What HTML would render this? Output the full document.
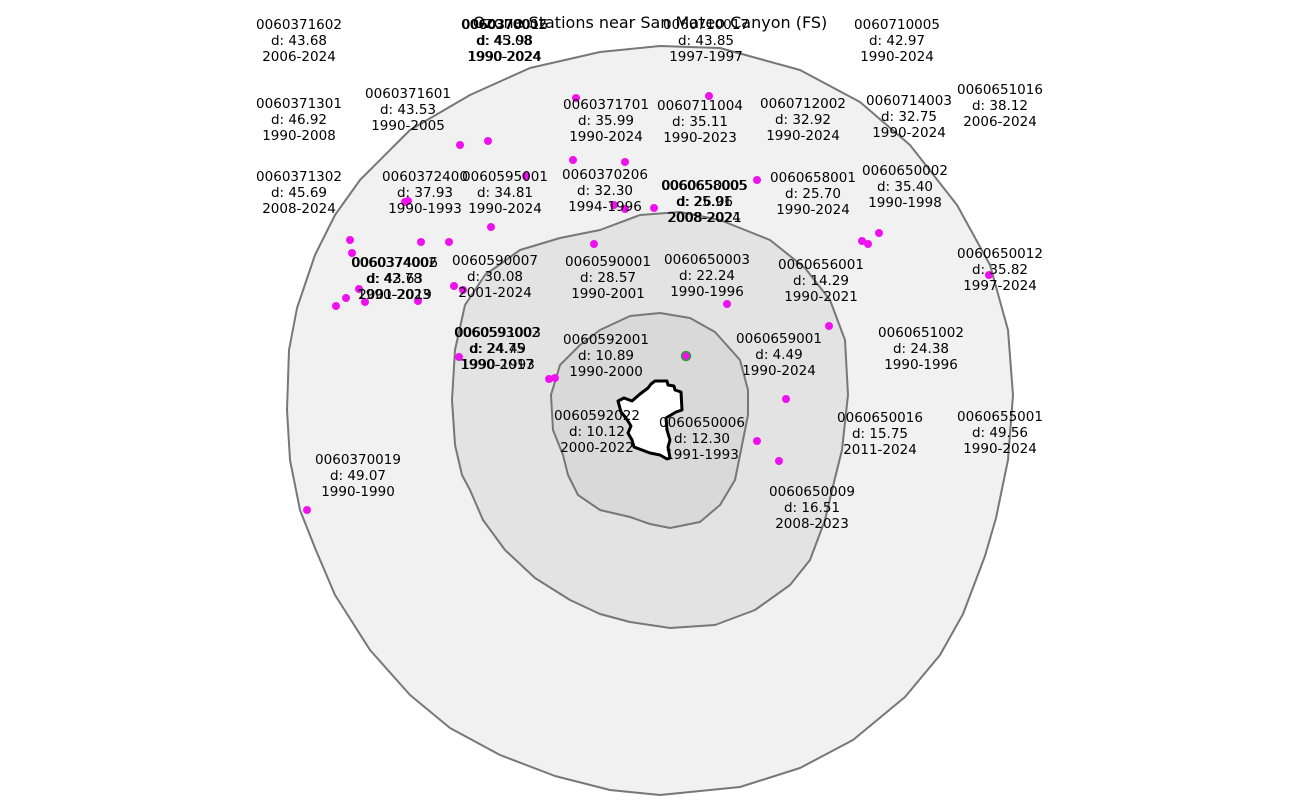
<!DOCTYPE html>
<html><head><meta charset="utf-8"><style>
html,body{margin:0;padding:0;background:#fff}
svg{display:block}
text{font-family:"DejaVu Sans","Liberation Sans",sans-serif;font-size:13.5px;fill:#000}
</style></head><body>
<svg width="1300" height="802" viewBox="0 0 1300 802" xmlns="http://www.w3.org/2000/svg">
<path d="M660,46 L720,48 L800,70 L860,102 L910,145 L957,205 L990,265 L1008,330 L1013,395 L1008,460 L996,518 L985,556 L963,614 L940,655 L905,697 L853,740 L800,768 L740,787 L660,795 L610,790 L555,776 L500,755 L450,728 L410,695 L370,650 L335,595 L315,548 L300,510 L290,460 L287,410 L289,350 L297,308 L315,255 L335,215 L360,180 L410,130 L470,95 L530,68 L600,52 Z" fill="#f1f1f1" stroke="#777" stroke-width="2" stroke-linejoin="round"/>
<path d="M600,230 L640,215 L680,212 L720,220 L770,240 L805,268 L830,300 L845,340 L848,395 L842,450 L835,478 L825,520 L810,560 L790,585 L755,610 L715,625 L670,628 L630,622 L600,614 L570,600 L535,578 L505,550 L483,520 L470,490 L462,475 L455,445 L452,400 L455,350 L465,305 L485,275 L520,250 L560,238 Z" fill="#e3e3e3" stroke="#777" stroke-width="2" stroke-linejoin="round"/>
<path d="M660,313 L690,318 L715,332 L740,360 L748,390 L748,415 L742,445 L735,480 L720,505 L700,522 L670,528 L650,524 L630,517 L600,510 L578,495 L568,475 L563,455 L553,430 L551,395 L560,365 L580,345 L600,330 L630,316 Z" fill="#d9d9d9" stroke="#777" stroke-width="2" stroke-linejoin="round"/>
<path d="M655,381 L667,381 L668,385 L674,386 L675,390 L681,392 L682,410 L676,412 L666,418 L667,430 L670,440 L668,447 L670,458 L667,459 L660,455 L650,453 L634,447 L632,440 L628,433 L631,426 L626,418 L621,412 L618,401 L624,398 L632,401 L640,394 L648,388 L651,384 Z" fill="#fff" stroke="#000" stroke-width="3" stroke-linejoin="round"/>
<g fill="#ee11ee">
<circle cx="576" cy="98" r="4"/><circle cx="709" cy="96" r="4"/><circle cx="460" cy="145" r="4"/><circle cx="488" cy="141" r="4"/><circle cx="573" cy="160" r="4"/><circle cx="625" cy="162" r="4"/><circle cx="526" cy="176" r="4"/><circle cx="757" cy="180" r="4"/><circle cx="405" cy="202" r="4"/><circle cx="408" cy="201" r="4"/><circle cx="614" cy="205" r="4"/><circle cx="625" cy="209" r="4"/><circle cx="654" cy="208" r="4"/><circle cx="491" cy="227" r="4"/><circle cx="350" cy="240" r="4"/><circle cx="421" cy="242" r="4"/><circle cx="449" cy="242" r="4"/><circle cx="594" cy="244" r="4"/><circle cx="862" cy="241" r="4"/><circle cx="868" cy="244" r="4"/><circle cx="879" cy="233" r="4"/><circle cx="352" cy="253" r="4"/><circle cx="359" cy="289" r="4"/><circle cx="346" cy="298" r="4"/><circle cx="365" cy="302" r="4"/><circle cx="336" cy="306" r="4"/><circle cx="418" cy="301" r="4"/><circle cx="454" cy="286" r="4"/><circle cx="463" cy="290" r="4"/><circle cx="727" cy="304" r="4"/><circle cx="989" cy="275" r="4"/><circle cx="829" cy="326" r="4"/><circle cx="459" cy="357" r="4"/><circle cx="549" cy="379" r="4"/><circle cx="555" cy="378" r="4"/><circle cx="786" cy="399" r="4"/><circle cx="757" cy="441" r="4"/><circle cx="779" cy="461" r="4"/><circle cx="307" cy="510" r="4"/>
</g>
<circle cx="686" cy="356" r="4.5" fill="#ee11ee" stroke="#2a2" stroke-width="1.5"/>
<text x="650" y="28" text-anchor="middle" style="font-size:16px">Ozone Stations near San Mateo Canyon (FS)</text>
<g text-anchor="middle">
<text x="299" y="29">0060371602<tspan x="299" dy="16">d: 43.68</tspan><tspan x="299" dy="16">2006-2024</tspan></text>
<text x="504" y="29">0060370002<tspan x="504" dy="16">d: 45.08</tspan><tspan x="504" dy="16">1990-2024</tspan></text>
<text x="505" y="29">0060370016<tspan x="505" dy="16">d: 43.98</tspan><tspan x="505" dy="16">1990-2024</tspan></text>
<text x="706" y="29">0060710017<tspan x="706" dy="16">d: 43.85</tspan><tspan x="706" dy="16">1997-1997</tspan></text>
<text x="897" y="29">0060710005<tspan x="897" dy="16">d: 42.97</tspan><tspan x="897" dy="16">1990-2024</tspan></text>
<text x="1000" y="94">0060651016<tspan x="1000" dy="16">d: 38.12</tspan><tspan x="1000" dy="16">2006-2024</tspan></text>
<text x="299" y="108">0060371301<tspan x="299" dy="16">d: 46.92</tspan><tspan x="299" dy="16">1990-2008</tspan></text>
<text x="408" y="98">0060371601<tspan x="408" dy="16">d: 43.53</tspan><tspan x="408" dy="16">1990-2005</tspan></text>
<text x="606" y="109">0060371701<tspan x="606" dy="16">d: 35.99</tspan><tspan x="606" dy="16">1990-2024</tspan></text>
<text x="700" y="110">0060711004<tspan x="700" dy="16">d: 35.11</tspan><tspan x="700" dy="16">1990-2023</tspan></text>
<text x="803" y="108">0060712002<tspan x="803" dy="16">d: 32.92</tspan><tspan x="803" dy="16">1990-2024</tspan></text>
<text x="909" y="105">0060714003<tspan x="909" dy="16">d: 32.75</tspan><tspan x="909" dy="16">1990-2024</tspan></text>
<text x="299" y="181">0060371302<tspan x="299" dy="16">d: 45.69</tspan><tspan x="299" dy="16">2008-2024</tspan></text>
<text x="425" y="181">0060372400<tspan x="425" dy="16">d: 37.93</tspan><tspan x="425" dy="16">1990-1993</tspan></text>
<text x="505" y="181">0060595001<tspan x="505" dy="16">d: 34.81</tspan><tspan x="505" dy="16">1990-2024</tspan></text>
<text x="605" y="179">0060370206<tspan x="605" dy="16">d: 32.30</tspan><tspan x="605" dy="16">1994-1996</tspan></text>
<text x="704" y="190">0060658005<tspan x="704" dy="16">d: 25.91</tspan><tspan x="704" dy="16">2008-2024</tspan></text>
<text x="705" y="190">0060650005<tspan x="705" dy="16">d: 26.06</tspan><tspan x="705" dy="16">2008-2021</tspan></text>
<text x="813" y="182">0060658001<tspan x="813" dy="16">d: 25.70</tspan><tspan x="813" dy="16">1990-2024</tspan></text>
<text x="905" y="175">0060650002<tspan x="905" dy="16">d: 35.40</tspan><tspan x="905" dy="16">1990-1998</tspan></text>
<text x="1000" y="258">0060650012<tspan x="1000" dy="16">d: 35.82</tspan><tspan x="1000" dy="16">1997-2024</tspan></text>
<text x="394" y="267">0060374002<tspan x="394" dy="16">d: 42.78</tspan><tspan x="394" dy="16">1990-2023</tspan></text>
<text x="395" y="267">0060374006<tspan x="395" dy="16">d: 43.63</tspan><tspan x="395" dy="16">2001-2019</tspan></text>
<text x="495" y="265">0060590007<tspan x="495" dy="16">d: 30.08</tspan><tspan x="495" dy="16">2001-2024</tspan></text>
<text x="608" y="266">0060590001<tspan x="608" dy="16">d: 28.57</tspan><tspan x="608" dy="16">1990-2001</tspan></text>
<text x="707" y="264">0060650003<tspan x="707" dy="16">d: 22.24</tspan><tspan x="707" dy="16">1990-1996</tspan></text>
<text x="821" y="269">0060656001<tspan x="821" dy="16">d: 14.29</tspan><tspan x="821" dy="16">1990-2021</tspan></text>
<text x="497" y="337">0060593002<tspan x="497" dy="16">d: 24.75</tspan><tspan x="497" dy="16">1990-2017</tspan></text>
<text x="498" y="337">0060591003<tspan x="498" dy="16">d: 24.49</tspan><tspan x="498" dy="16">1990-1993</tspan></text>
<text x="606" y="344">0060592001<tspan x="606" dy="16">d: 10.89</tspan><tspan x="606" dy="16">1990-2000</tspan></text>
<text x="779" y="343">0060659001<tspan x="779" dy="16">d: 4.49</tspan><tspan x="779" dy="16">1990-2024</tspan></text>
<text x="921" y="337">0060651002<tspan x="921" dy="16">d: 24.38</tspan><tspan x="921" dy="16">1990-1996</tspan></text>
<text x="597" y="420">0060592022<tspan x="597" dy="16">d: 10.12</tspan><tspan x="597" dy="16">2000-2022</tspan></text>
<text x="702" y="427">0060650006<tspan x="702" dy="16">d: 12.30</tspan><tspan x="702" dy="16">1991-1993</tspan></text>
<text x="880" y="422">0060650016<tspan x="880" dy="16">d: 15.75</tspan><tspan x="880" dy="16">2011-2024</tspan></text>
<text x="1000" y="421">0060655001<tspan x="1000" dy="16">d: 49.56</tspan><tspan x="1000" dy="16">1990-2024</tspan></text>
<text x="358" y="464">0060370019<tspan x="358" dy="16">d: 49.07</tspan><tspan x="358" dy="16">1990-1990</tspan></text>
<text x="812" y="496">0060650009<tspan x="812" dy="16">d: 16.51</tspan><tspan x="812" dy="16">2008-2023</tspan></text>
</g>
</svg>
</body></html>
